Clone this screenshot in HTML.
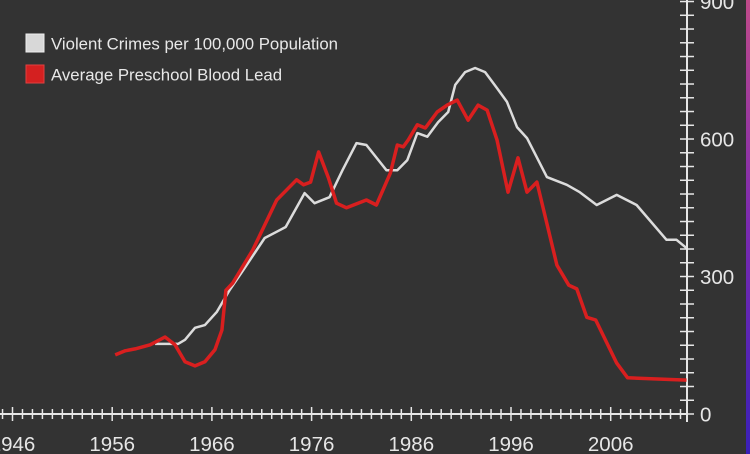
<!DOCTYPE html>
<html><head><meta charset="utf-8">
<style>
html,body{margin:0;padding:0;background:#333333;overflow:hidden;}
svg{display:block;font-family:"Liberation Sans",sans-serif;}
</style></head>
<body>
<svg id="chart" width="750" height="454" viewBox="0 0 750 454">
<defs><linearGradient id="edge" x1="0" y1="0" x2="0" y2="1"><stop offset="0" stop-color="#c04a8a"/><stop offset="0.5" stop-color="#7a2ab0"/><stop offset="1" stop-color="#3a20b8"/></linearGradient></defs>
<rect x="0" y="0" width="750" height="454" fill="#333333"/>
<rect x="746" y="0" width="4" height="454" fill="url(#edge)"/>
<g id="axes"></g>
<g id="series"></g>
<g>
<rect x="26" y="34" width="18" height="18" fill="#d8d8d8" stroke="#eee"/>
<text x="51" y="49.5" font-size="16.8" fill="#e8e8e8">Violent Crimes per 100,000 Population</text>
<rect x="26" y="65" width="18" height="18" fill="#d42020" stroke="#e04040"/>
<text x="51" y="80.5" font-size="16.8" fill="#e8e8e8">Average Preschool Blood Lead</text>
</g>
</svg>
<script>
const crimeYears = [1960.3,1962.6,1963.3,1964.3,1965.3,1966.5,1967.8,1969.3,1971.3,1972.8,1973.4,1975.3,1976.3,1977.8,1979.1,1980.5,1981.5,1983.5,1984.6,1985.6,1986.6,1987.6,1988.7,1989.7,1990.4,1991.4,1992.4,1993.4,1994.6,1995.6,1996.6,1997.6,1999.6,2001.6,2002.9,2004.6,2006.6,2008.6,2011.6,2012.6,2013.6];
const crimeValues = [153,153,162,188,194,223,271,319,384,401,408,482,460,473,532,591,587,532,532,554,613,605,637,659,718,746,755,746,711,681,626,602,517,500,484,456,478,456,380,380,362];
const leadYears = [1956.3,1957.3,1958.3,1959.8,1961.3,1962.3,1963.3,1964.3,1965.3,1966.3,1967,1967.4,1968.1,1970.1,1972.5,1974.5,1975.2,1975.9,1976.7,1977.7,1978.5,1979.5,1981.5,1982.5,1983.9,1984.6,1985.2,1985.7,1986.6,1987.4,1988.6,1989.6,1990.6,1991.7,1992.7,1993.6,1994.6,1995.7,1996.7,1997.6,1998.6,2000.6,2001.8,2002.6,2003.6,2004.5,2006.6,2007.7,2013.6];
const leadValues = [129,138,142,151,168,151,114,105,114,140,183,270,286,358,467,511,500,506,572,515,460,450,467,456,526,587,583,598,631,624,659,674,685,641,674,663,598,484,559,484,506,325,281,273,211,205,111,79,74];
const xTickLabels = [1946,1956,1966,1976,1986,1996,2006];
const yTickLabels = [0,300,600,900];

const NS="http://www.w3.org/2000/svg";
const x = yr => 12.5 + (yr-1946)*9.97;
const y = v => 414 - v*0.4583;
const AX=687, AY=414;
const axes=document.getElementById('axes'), series=document.getElementById('series');
function mk(tag,attrs,parent){const e=document.createElementNS(NS,tag);for(const k in attrs)e.setAttribute(k,attrs[k]);parent.appendChild(e);return e;}
const stroke="#e6e6e6";
let l=mk('line',{x1:0,y1:AY,x2:AX,y2:AY,stroke:stroke,'stroke-width':2},axes);


l=mk('line',{x1:AX,y1:0,x2:AX,y2:AY+8,stroke:stroke,'stroke-width':2},axes);


for(let yr=1945;yr<=2013;yr++){const big=(yr-1946)%10===0;const t=mk('line',{x1:x(yr),y1:AY-(big?7:5),x2:x(yr),y2:AY+(big?7:5),stroke:stroke,'stroke-width':1.5},axes);

}
for(let v=0;v<=900;v+=30){const t=mk('line',{x1:AX-7,y1:y(v),x2:AX+7,y2:y(v),stroke:stroke,'stroke-width':1.5},axes);

}
xTickLabels.forEach(yr=>{const t=mk('text',{x:x(yr),y:451,'text-anchor':'middle','font-size':20.5,fill:stroke},axes);t.textContent=yr;

});
yTickLabels.forEach(v=>{const t=mk('text',{x:700,y:y(v)+7.5,'font-size':20.5,fill:stroke},axes);t.textContent=v;

});
const pts=(xs,vs)=>xs.map((yr,i)=>x(yr).toFixed(1)+','+y(vs[i]).toFixed(1)).join(' ');
let p=mk('polyline',{points:pts(crimeYears,crimeValues),fill:'none',stroke:'#dcdcdc','stroke-width':2.5,'stroke-linejoin':'round'},series);


p=mk('polyline',{points:pts(leadYears,leadValues),fill:'none',stroke:'#d91f1f','stroke-width':3.5,'stroke-linejoin':'round'},series);


</script>
</body></html>
